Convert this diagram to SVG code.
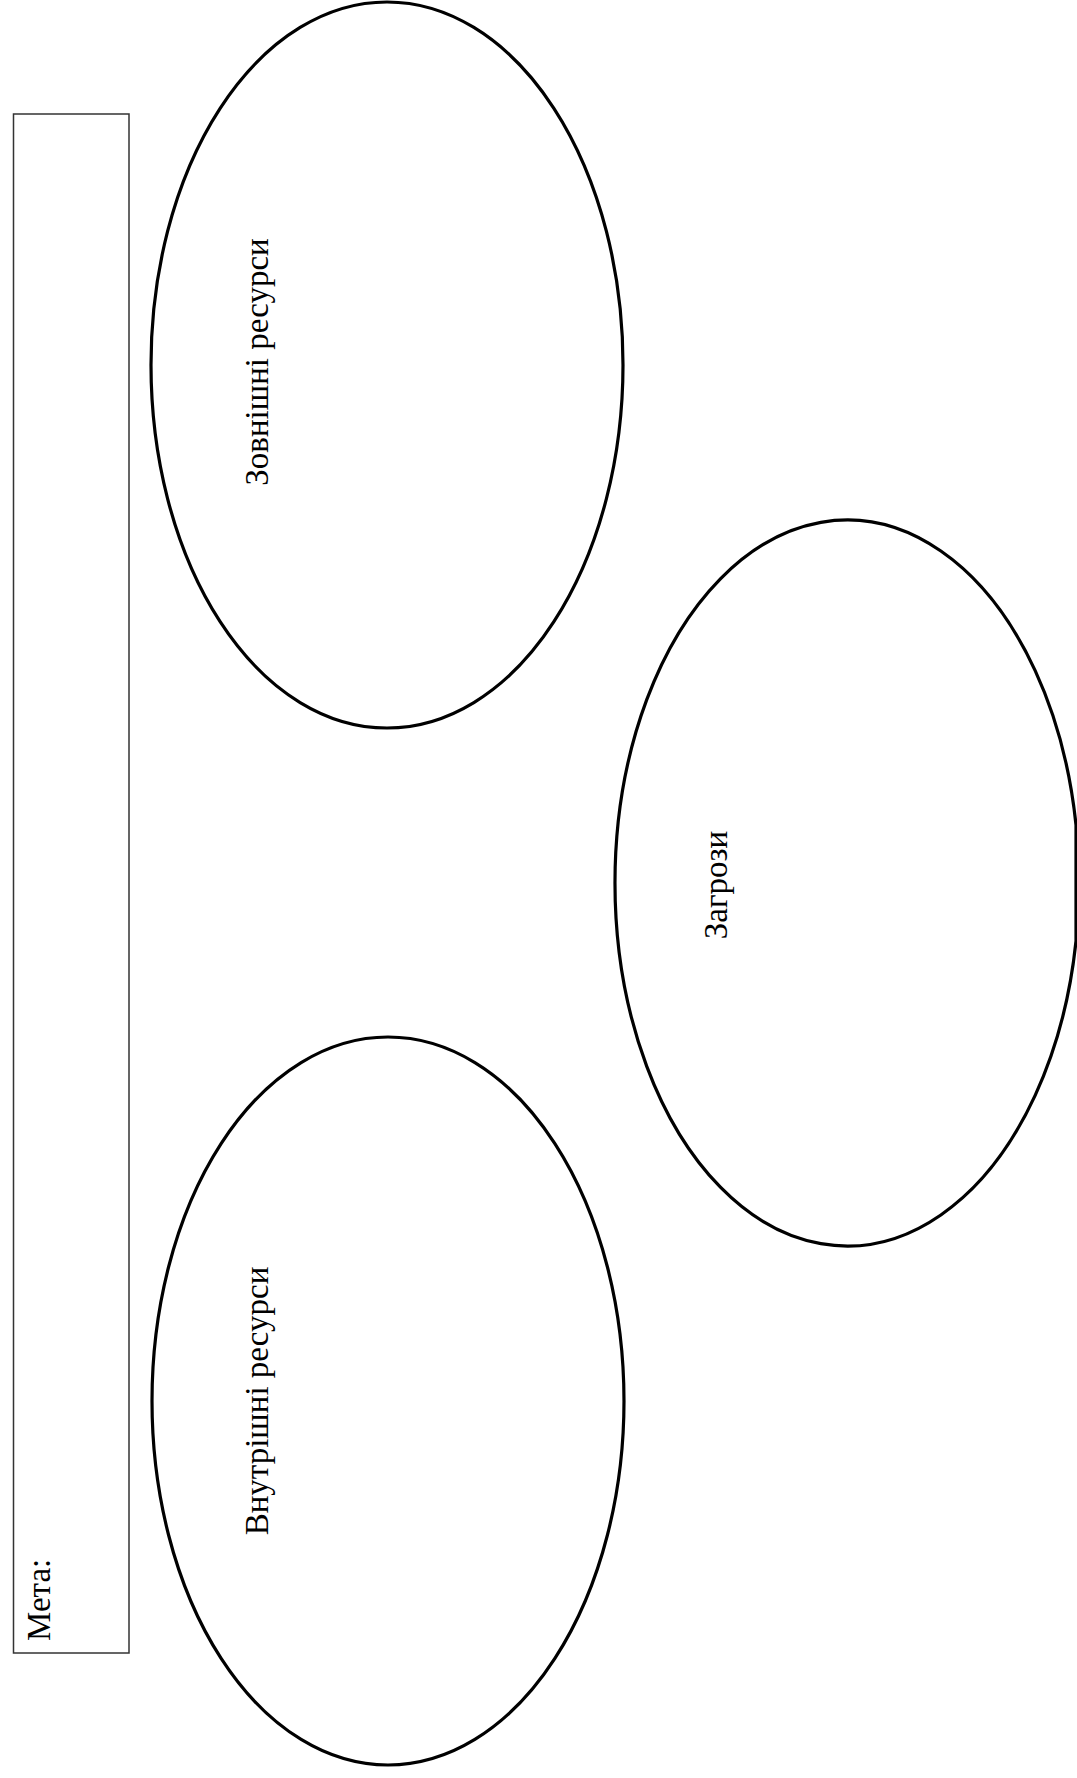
<svg xmlns="http://www.w3.org/2000/svg" width="1077" height="1778" viewBox="0 0 1077 1778">
<style>
.oval{fill:none;stroke:#000;stroke-width:3.2}
.lbl{font-family:"Liberation Serif","Times New Roman","DejaVu Serif",serif;font-size:33px;fill:#000}
</style>
<rect x="0" y="0" width="1077" height="1778" fill="#fff"/>
<g id="meta">
<rect x="13.5" y="114" width="115.5" height="1539" fill="none" stroke="#333" stroke-width="1.5"/>
<text class="lbl" transform="translate(50,1641) rotate(-90)">Мета:</text>
</g>
<g id="external">
<ellipse class="oval" cx="387" cy="365" rx="236" ry="363"/>
<text class="lbl" text-anchor="middle" transform="translate(268,362) rotate(-90)">Зовнішні ресурси</text>
</g>
<g id="threats">
<path class="oval" d="M1076 825 A232 363 0 1 0 1076 941 Z"/>
<text class="lbl" text-anchor="middle" transform="translate(727,885) rotate(-90)">Загрози</text>
</g>
<g id="internal">
<ellipse class="oval" cx="388" cy="1401" rx="236" ry="364"/>
<text class="lbl" text-anchor="middle" transform="translate(268,1401) rotate(-90)">Внутрішні ресурси</text>
</g>
<g id="connectors"></g>
</svg>
